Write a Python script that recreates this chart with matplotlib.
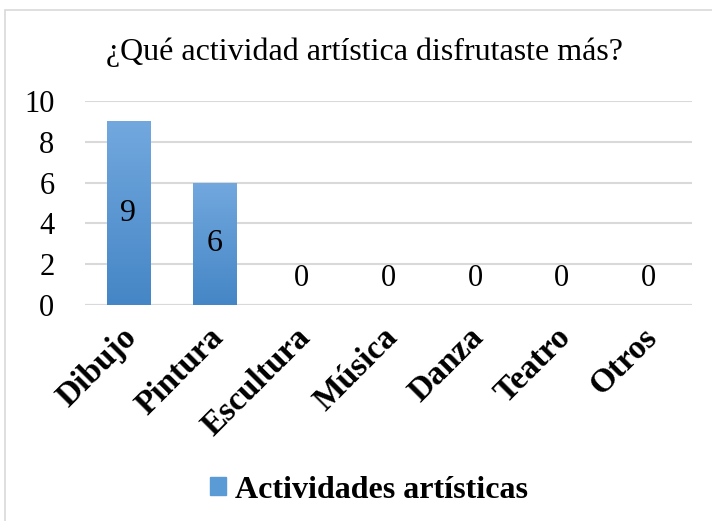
import matplotlib
matplotlib.use("Agg")
import matplotlib.pyplot as plt
import matplotlib.transforms as mtransforms
import numpy as np
from matplotlib.colors import LinearSegmentedColormap
from matplotlib.patches import Rectangle

categories = ["Dibujo", "Pintura", "Escultura", "Música", "Danza", "Teatro", "Otros"]
values = [9, 6, 0, 0, 0, 0, 0]
yticks = [0, 2, 4, 6, 8, 10]
title = "¿Qué actividad artística disfrutaste más?"
series_name = "Actividades artísticas"

plt.rcParams["font.family"] = ["Liberation Serif", "DejaVu Serif"]

fig = plt.figure(figsize=(7.12, 5.21), dpi=100)
fig.patches.append(Rectangle((5 / 712, -0.01), 1.0, 1 - 10 / 521 + 0.01,
                             transform=fig.transFigure, fill=False,
                             edgecolor="#d9d9d9", lw=1.2))
ax = fig.add_axes([85 / 712, 1 - 305 / 521, 607 / 712, 204 / 521])

x = np.arange(len(categories))
bars = ax.bar(x, values, width=0.5, color="#5b9bd5", zorder=2)

cmap = LinearSegmentedColormap.from_list("grad", ["#4586c6", "#72a8de"])
grad = np.linspace(0, 1, 256).reshape(-1, 1)
for b in bars:
    if b.get_height() <= 0:
        continue
    b.set_facecolor("none")
    im = ax.imshow(grad, cmap=cmap, aspect="auto", origin="lower",
                   extent=[b.get_x(), b.get_x() + b.get_width(), 0, b.get_height()],
                   zorder=2)
    im.set_clip_path(b)

for xi, v in zip(x, values):
    if v > 0:
        ax.text(xi, v / 2, str(v), ha="center", va="center", fontsize=23, zorder=3)
    else:
        ax.text(xi, 1.3, str(v), ha="center", va="center", fontsize=22, zorder=3)

ax.set_xlim(-0.5, len(categories) - 0.5)
ax.set_ylim(0, 10)
ax.set_yticks(yticks)
ax.set_yticklabels([str(t) for t in yticks], fontsize=22)
ax.set_xticks(x)
ax.set_xticklabels(categories, rotation=45, ha="right", rotation_mode="anchor",
                   fontsize=24, fontweight="bold")
ax.tick_params(length=0)
ax.tick_params(axis="x", pad=12)
ax.tick_params(axis="y", pad=22)
shift = mtransforms.ScaledTranslation(-7 / 100, 0, fig.dpi_scale_trans)
for lbl in ax.get_xticklabels():
    lbl.set_transform(lbl.get_transform() + shift)
ax.grid(axis="y", color="#d9d9d9", lw=1.5, zorder=0)
for s in ax.spines.values():
    s.set_visible(False)
ax.axhline(0, color="#d9d9d9", lw=1.5, zorder=1)

fig.text(0.512, 1 - 52 / 521, title, ha="center", va="center", fontsize=23)

fig.legend(handles=[Rectangle((0, 0), 1, 1, color="#5b9bd5")], labels=[series_name],
           loc="center", bbox_to_anchor=(0.518, 1 - 490 / 521), frameon=False,
           prop={"size": 23, "weight": "bold"}, handlelength=0.5, handleheight=0.5,
           handletextpad=0.3)

fig.savefig("out.png", dpi=100)
